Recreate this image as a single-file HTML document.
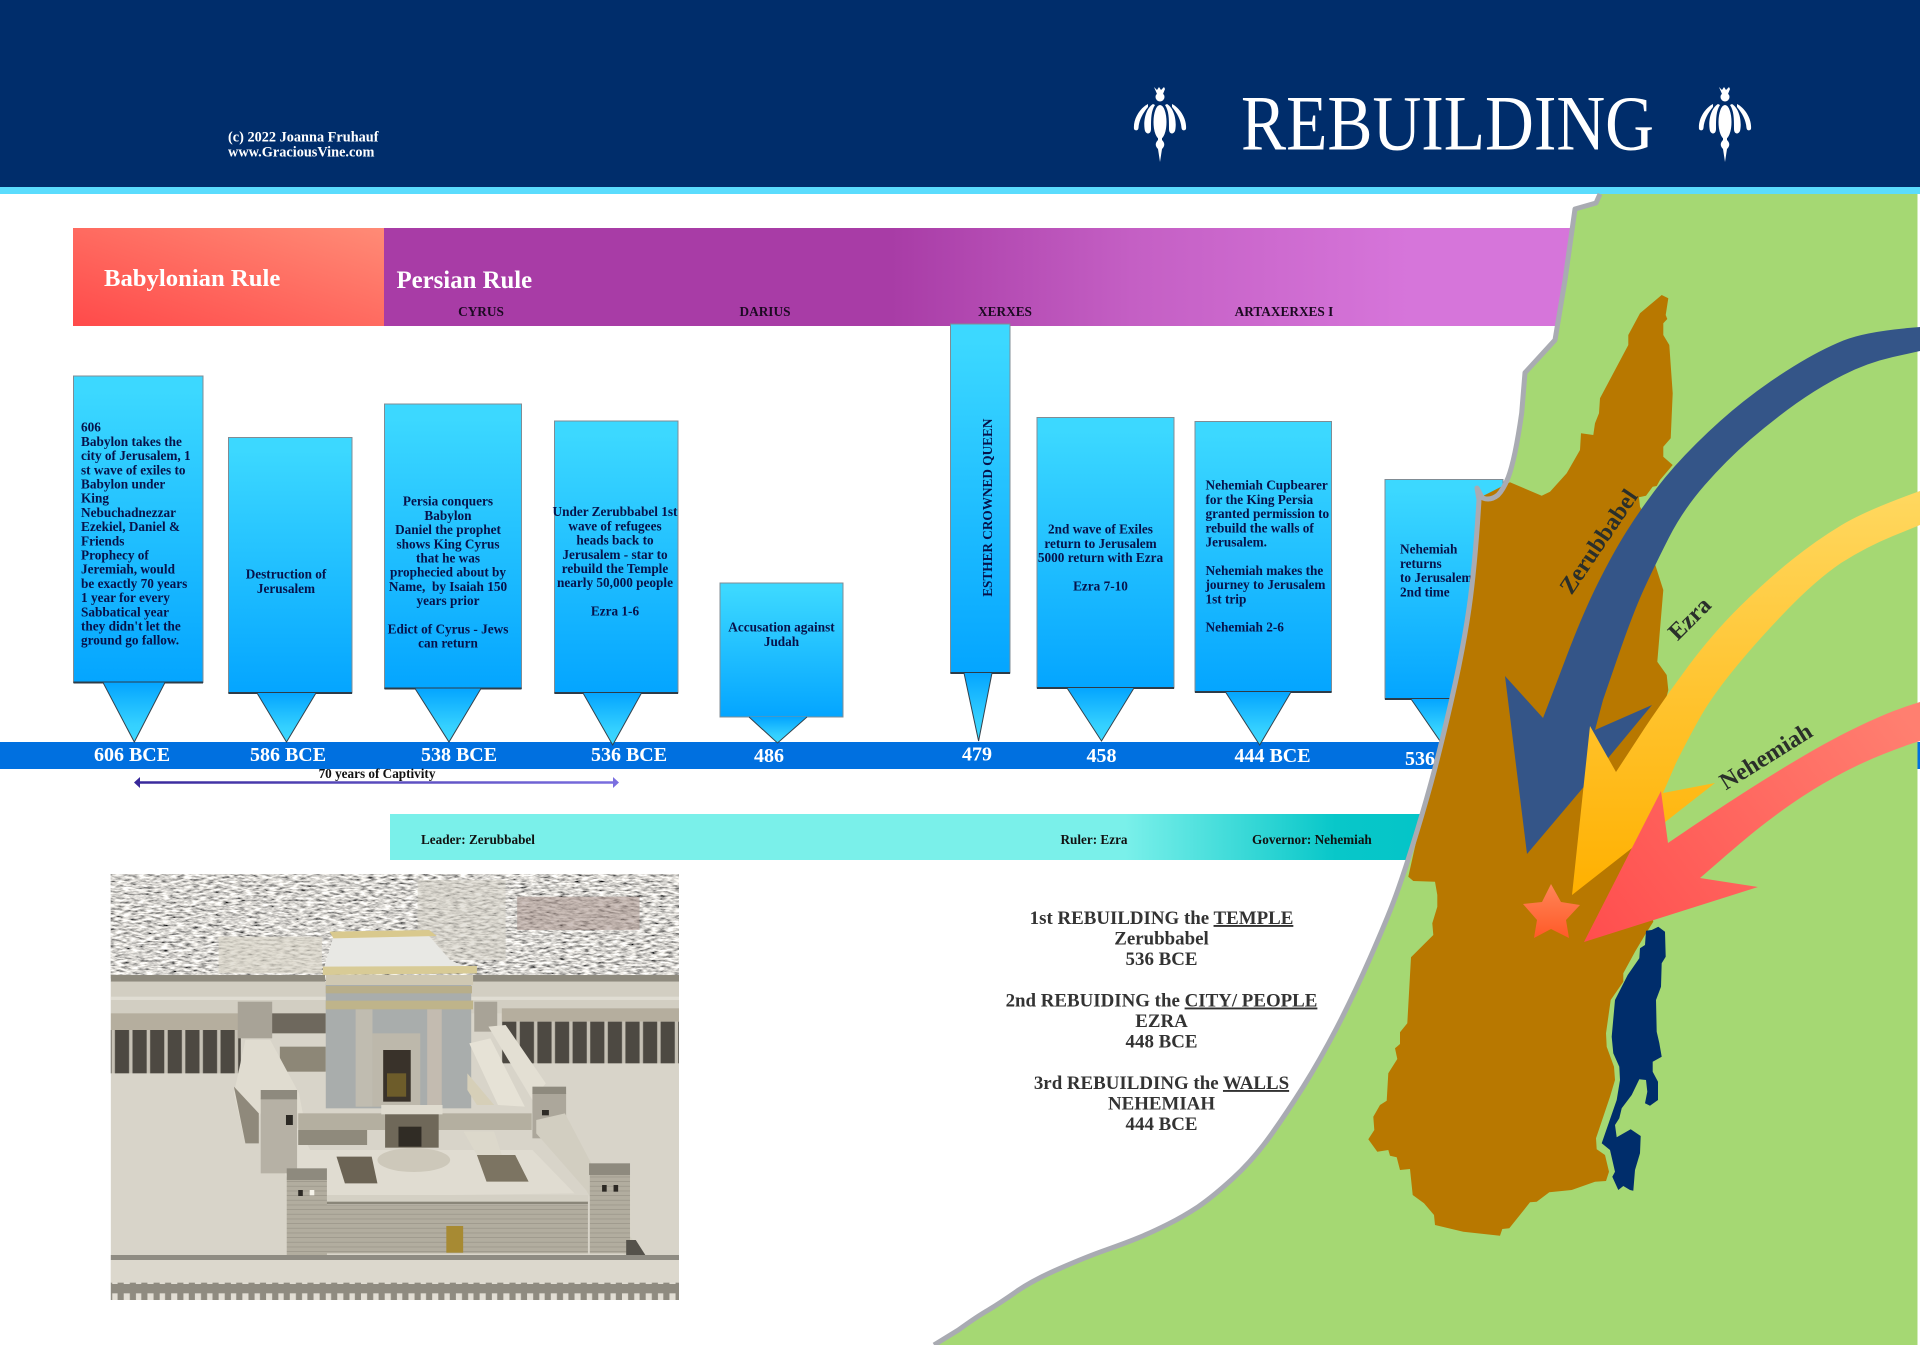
<!DOCTYPE html>
<html><head><meta charset="utf-8"><title>Rebuilding</title>
<style>
html,body{margin:0;padding:0;background:#fff}
svg{display:block}
text{font-family:"Liberation Serif",serif;font-weight:bold}
.b{font-size:13.25px;fill:#07124a}
.m{text-anchor:middle}
.k{font-size:13.3px;fill:#1c0a22;text-anchor:middle}
.d{font-size:20px;fill:#fff;text-anchor:middle}
.t{font-size:18.9px;fill:#333;text-anchor:middle}
.l{font-size:24px;fill:#2a2f2a;text-anchor:middle}
.s{font-size:13.2px;fill:#111}
.box{stroke:#808c94;stroke-width:1}
.ptr{stroke:#33424d;stroke-width:1;fill:url(#gP)}
.bot{stroke:#2d3c48;stroke-width:2}
</style></head>
<body>
<svg xmlns="http://www.w3.org/2000/svg" width="1920" height="1345" viewBox="0 0 1920 1345">
<defs>
<linearGradient id="gB" x1="0" y1="0" x2="0" y2="1"><stop offset="0.05" stop-color="#3cd8ff"/><stop offset="1" stop-color="#04a5ff"/></linearGradient>
<linearGradient id="gP" x1="0" y1="0" x2="0" y2="1"><stop offset="0" stop-color="#04a5ff"/><stop offset="0.7" stop-color="#34d0ff"/><stop offset="1" stop-color="#3cd8ff"/></linearGradient>
<linearGradient id="gBab" x1="0" y1="1" x2="1" y2="0"><stop offset="0" stop-color="#ff4a4a"/><stop offset="1" stop-color="#ff8b76"/></linearGradient>
<linearGradient id="gPer" gradientUnits="userSpaceOnUse" x1="384" y1="0" x2="1590" y2="0"><stop offset="0.42" stop-color="#a83ca6"/><stop offset="0.62" stop-color="#c45fc4"/><stop offset="0.85" stop-color="#d675da"/></linearGradient>
<linearGradient id="gTeal" gradientUnits="userSpaceOnUse" x1="390" y1="0" x2="1440" y2="0"><stop offset="0.7" stop-color="#7af0ea"/><stop offset="0.9" stop-color="#08c7c9"/><stop offset="1" stop-color="#03c4c8"/></linearGradient>
<linearGradient id="gArr" gradientUnits="userSpaceOnUse" x1="134" y1="0" x2="620" y2="0"><stop offset="0" stop-color="#38289a"/><stop offset="1" stop-color="#7b6fe0"/></linearGradient>
<linearGradient id="gY" gradientUnits="userSpaceOnUse" x1="0" y1="490" x2="0" y2="895"><stop offset="0" stop-color="#ffd860"/><stop offset="1" stop-color="#ffb000"/></linearGradient>
<linearGradient id="gR" gradientUnits="userSpaceOnUse" x1="1900" y1="710" x2="1590" y2="940"><stop offset="0" stop-color="#ff7f70"/><stop offset="1" stop-color="#ff4e4e"/></linearGradient>
<linearGradient id="gS" x1="0" y1="0" x2="0" y2="1"><stop offset="0" stop-color="#ff8558"/><stop offset="1" stop-color="#ff5a28"/></linearGradient>
<filter id="city" x="0" y="0" width="1" height="1"><feTurbulence type="fractalNoise" baseFrequency="0.05 0.16" numOctaves="3" seed="7"/><feColorMatrix type="matrix" values="2 0 0 0 -0.32  1.95 0 0 0 -0.31  1.85 0 0 0 -0.29  0 0 0 0 1"/></filter>
<pattern id="cren" width="62" height="50" patternUnits="userSpaceOnUse"><rect width="62" height="50" fill="#8f8b80"/><rect x="0" y="0" width="16" height="22" fill="#e2ded4"/><rect x="32" y="0" width="14" height="22" fill="#e2ded4"/></pattern>
<pattern id="cols" width="46" height="10" patternUnits="userSpaceOnUse"><rect width="46" height="10" fill="#4d4942"/><rect x="30" width="9" height="10" fill="#c5c0b4"/></pattern>
<pattern id="brick" width="20" height="14" patternUnits="userSpaceOnUse"><rect width="20" height="14" fill="#b2ad9f"/><rect y="12" width="20" height="1.6" fill="#918c80"/></pattern>
<g id="orn" fill="#fff">
<path d="M-6 0L-3 3L-1 0L1 3L4 0L5 2L3 7L-3 7Z"/><circle cy="10" r="4.5"/>
<ellipse cy="35" rx="6.5" ry="17"/>
<path d="M-12 17C-20 21-27 32-26 42C-25 44-22 44-21.5 41C-21 33-17 26-12 20Z"/>
<path d="M-7 17C-15 22-17 36-15 44C-13 48-9 47-9 42C-9 32-9 24-5 18Z"/>
<path d="M12 17C20 21 27 32 26 42C25 44 22 44 21.5 41C21 33 17 26 12 20Z"/>
<path d="M7 17C15 22 17 36 15 44C13 48 9 47 9 42C9 32 9 24 5 18Z"/>
<path d="M-2 49L-2 53C-5 56-5 59-2 62L0 75L2 62C5 59 5 56 2 53L2 49Z"/>
</g>
</defs>

<rect width="1920" height="1345" fill="#fff"/>
<!-- header -->
<rect width="1920" height="187" fill="#002d6b"/>
<rect y="187" width="1920" height="7" fill="#5bdcfd"/>
<text x="228" y="141.7" style="font-size:14.3px" fill="#fff">(c) 2022 Joanna Fruhauf</text>
<text x="228" y="156.7" style="font-size:14.3px" fill="#fff">www.GraciousVine.com</text>
<text x="1241" y="149.5" fill="#fff" style="font-size:78px;font-weight:normal" textLength="413" lengthAdjust="spacingAndGlyphs">REBUILDING</text>
<use href="#orn" x="1160" y="87"/>
<use href="#orn" x="1725" y="87"/>

<!-- rule bars -->
<rect x="73" y="228" width="311" height="98" fill="url(#gBab)"/>
<rect x="384" y="228" width="1210" height="98" fill="url(#gPer)"/>
<text x="104" y="286" fill="#fff" style="font-size:24.7px">Babylonian Rule</text>
<text x="396.5" y="288" fill="#fff" style="font-size:24.8px">Persian Rule</text>
<text class="k" x="481" y="316">CYRUS</text>
<text class="k" x="765" y="316">DARIUS</text>
<text class="k" x="1005" y="316">XERXES</text>
<text class="k" x="1284" y="316">ARTAXERXES I</text>

<!-- timeline -->
<rect y="742" width="1920" height="27" fill="#0070e0"/>

<!-- callouts -->
<rect class="box" x="73.5" y="376" width="129.5" height="306.5" fill="url(#gB)"/><path class="bot" d="M73.5 682.5H203"/><path class="ptr" d="M103 682.5L134.3 742L165 682.5"/>
<rect class="box" x="228.5" y="437.5" width="123.5" height="255.5" fill="url(#gB)"/><path class="bot" d="M228.5 693H352"/><path class="ptr" d="M257 693L286.5 742L316 693"/>
<rect class="box" x="384.5" y="404" width="137" height="284.5" fill="url(#gB)"/><path class="bot" d="M384.5 688.5H521.5"/><path class="ptr" d="M415 688.5L449 742L481 688.5"/>
<rect class="box" x="554.5" y="421" width="123.5" height="272" fill="url(#gB)"/><path class="bot" d="M554.5 693H678"/><path class="ptr" d="M583 693L612.7 745L641.5 693"/>
<rect class="box" x="720" y="583" width="123" height="134" fill="url(#gB)"/><path class="ptr" d="M749 717L777.5 743L807 717"/>
<rect class="box" x="950.5" y="324" width="59.5" height="349" fill="url(#gB)"/><path class="bot" d="M950.5 673H1010"/><path class="ptr" d="M964 673L978.6 741L992 673"/>
<rect class="box" x="1037" y="417.5" width="137" height="270.5" fill="url(#gB)"/><path class="bot" d="M1037 688H1174"/><path class="ptr" d="M1067 688L1101.5 741L1134 688"/>
<rect class="box" x="1195" y="421.5" width="136.5" height="270.5" fill="url(#gB)"/><path class="bot" d="M1195 692H1331.5"/><path class="ptr" d="M1225.5 692L1259.7 745L1291 692"/>
<rect class="box" x="1385" y="479.5" width="118" height="219.5" fill="url(#gB)"/><path class="bot" d="M1385 699H1503"/><path class="ptr" d="M1411 699L1440 741L1473 699"/>

<g transform="translate(0 .7)">
<text class="b" x="81" y="431"><tspan x="81">606</tspan><tspan x="81" dy="14.2">Babylon takes the</tspan><tspan x="81" dy="14.2">city of Jerusalem, 1</tspan><tspan x="81" dy="14.2">st wave of exiles to</tspan><tspan x="81" dy="14.2">Babylon under</tspan><tspan x="81" dy="14.2">King</tspan><tspan x="81" dy="14.2">Nebuchadnezzar</tspan><tspan x="81" dy="14.2">Ezekiel, Daniel &amp;</tspan><tspan x="81" dy="14.2">Friends</tspan><tspan x="81" dy="14.2">Prophecy of</tspan><tspan x="81" dy="14.2">Jeremiah, would</tspan><tspan x="81" dy="14.2">be exactly 70 years</tspan><tspan x="81" dy="14.2">1 year for every</tspan><tspan x="81" dy="14.2">Sabbatical year</tspan><tspan x="81" dy="14.2">they didn't let the</tspan><tspan x="81" dy="14.2">ground go fallow.</tspan></text>
<text class="b m" x="286" y="578"><tspan x="286">Destruction of</tspan><tspan x="286" dy="14.2">Jerusalem</tspan></text>
<text class="b m" x="448" y="505"><tspan x="448">Persia conquers</tspan><tspan x="448" dy="14.2">Babylon</tspan><tspan x="448" dy="14.2">Daniel the prophet</tspan><tspan x="448" dy="14.2">shows King Cyrus</tspan><tspan x="448" dy="14.2">that he was</tspan><tspan x="448" dy="14.2">prophecied about by</tspan><tspan x="448" dy="14.2" xml:space="preserve">Name,  by Isaiah 150</tspan><tspan x="448" dy="14.2">years prior</tspan><tspan x="448" dy="28.4">Edict of Cyrus - Jews</tspan><tspan x="448" dy="14.2">can return</tspan></text>
<text class="b m" x="615" y="515.5"><tspan x="615">Under Zerubbabel 1st</tspan><tspan x="615" dy="14.2">wave of refugees</tspan><tspan x="615" dy="14.2">heads back to</tspan><tspan x="615" dy="14.2">Jerusalem - star to</tspan><tspan x="615" dy="14.2">rebuild the Temple</tspan><tspan x="615" dy="14.2">nearly 50,000 people</tspan><tspan x="615" dy="28.4">Ezra 1-6</tspan></text>
<text class="b m" x="781.5" y="631"><tspan x="781.5">Accusation against</tspan><tspan x="781.5" dy="14.2">Judah</tspan></text>
<text class="b m" x="0" y="0" transform="translate(992 507) rotate(-90)">ESTHER CROWNED QUEEN</text>
<text class="b m" x="1100.5" y="533"><tspan x="1100.5">2nd wave of Exiles</tspan><tspan x="1100.5" dy="14.2">return to Jerusalem</tspan><tspan x="1100.5" dy="14.2">5000 return with Ezra</tspan><tspan x="1100.5" dy="28.4">Ezra 7-10</tspan></text>
<text class="b" x="1205.5" y="489"><tspan x="1205.5">Nehemiah Cupbearer</tspan><tspan x="1205.5" dy="14.2">for the King Persia</tspan><tspan x="1205.5" dy="14.2">granted permission to</tspan><tspan x="1205.5" dy="14.2">rebuild the walls of</tspan><tspan x="1205.5" dy="14.2">Jerusalem.</tspan><tspan x="1205.5" dy="28.4">Nehemiah makes the</tspan><tspan x="1205.5" dy="14.2">journey to Jerusalem</tspan><tspan x="1205.5" dy="14.2">1st trip</tspan><tspan x="1205.5" dy="28.4">Nehemiah 2-6</tspan></text>
<text class="b" x="1400" y="553"><tspan x="1400">Nehemiah</tspan><tspan x="1400" dy="14.2">returns</tspan><tspan x="1400" dy="14.2">to Jerusalem</tspan><tspan x="1400" dy="14.2">2nd time</tspan></text>
</g>

<!-- dates -->
<text class="d" x="132" y="761">606 BCE</text>
<text class="d" x="288" y="761">586 BCE</text>
<text class="d" x="459" y="761">538 BCE</text>
<text class="d" x="629" y="761">536 BCE</text>
<text class="d" x="769" y="762">486</text>
<text class="d" x="977" y="760.5">479</text>
<text class="d" x="1101.5" y="762">458</text>
<text class="d" x="1272.5" y="762">444 BCE</text>
<text class="d" x="1420" y="765">536</text>

<!-- captivity arrow -->
<path d="M140 782.5H613" stroke="url(#gArr)" stroke-width="2.5" fill="none"/>
<path d="M134 782.5L140 777V788Z" fill="#38289a"/><path d="M619 782.5L613 777V788Z" fill="#7b6fe0"/>
<text class="m s" x="377" y="778">70 years of Captivity</text>

<!-- teal -->
<rect x="390" y="814" width="1060" height="46" fill="url(#gTeal)"/>
<text class="s" x="421" y="844">Leader: Zerubbabel</text>
<text class="s" x="1060.5" y="844">Ruler: Ezra</text>
<text class="s" x="1252" y="844">Governor: Nehemiah</text>

<!-- center text -->
<text class="t" x="1161.5" y="924">1st REBUILDING the <tspan text-decoration="underline">TEMPLE</tspan></text>
<text class="t" x="1161.5" y="944.5">Zerubbabel</text>
<text class="t" x="1161.5" y="965">536 BCE</text>
<text class="t" x="1161.5" y="1006.5">2nd REBUIDING the <tspan text-decoration="underline">CITY/ PEOPLE</tspan></text>
<text class="t" x="1161.5" y="1027">EZRA</text>
<text class="t" x="1161.5" y="1047.5">448 BCE</text>
<text class="t" x="1161.5" y="1089">3rd REBUILDING the <tspan text-decoration="underline">WALLS</tspan></text>
<text class="t" x="1161.5" y="1109.5">NEHEMIAH</text>
<text class="t" x="1161.5" y="1130">444 BCE</text>

<!-- temple image (coordinates in crop space) -->
<svg x="110.7" y="874" width="568.3" height="426" viewBox="28 42 1485 1278" preserveAspectRatio="none">
<rect x="28" y="42" width="1485" height="1278" fill="#d8d4c9"/>
<rect x="28" y="42" width="1485" height="320" fill="#b5b1a4" filter="url(#city)"/>
<rect x="1090" y="110" width="320" height="100" fill="#a58f88" opacity=".55"/>
<rect x="310" y="230" width="270" height="110" fill="#d8d4c8" opacity=".7"/>
<rect x="830" y="60" width="230" height="240" fill="#d2cec2" opacity=".55"/>
<rect x="28" y="345" width="560" height="20" fill="#8e8a7e"/>
<rect x="970" y="345" width="543" height="20" fill="#8e8a7e"/>
<rect x="28" y="365" width="1485" height="95" fill="#d2cec2"/>
<rect x="28" y="410" width="1485" height="10" fill="#e0ddd3"/>
<rect x="28" y="460" width="340" height="50" fill="#b5ae9e"/>
<rect x="28" y="510" width="340" height="130" fill="url(#cols)"/>
<rect x="1050" y="445" width="463" height="40" fill="#b5ae9e"/>
<rect x="1050" y="485" width="463" height="125" fill="url(#cols)"/>
<rect x="440" y="460" width="150" height="60" fill="#6e685d"/>
<rect x="470" y="560" width="120" height="75" fill="#8d8777"/>
<rect x="360" y="425" width="90" height="110" fill="#a8a397"/>
<rect x="978" y="425" width="60" height="90" fill="#a8a397"/>
<polygon points="380,540 445,540 520,700 530,760 420,760 380,850 350,700" fill="#e0dcd0"/>
<polygon points="350,680 415,760 415,850 380,850" fill="#8f897b"/>
<!-- temple -->
<rect x="590" y="370" width="380" height="375" fill="#a9adac"/>
<rect x="590" y="345" width="385" height="30" fill="#cfc8b2"/>
<rect x="590" y="378" width="382" height="22" fill="#b8ae8a"/>
<rect x="590" y="422" width="385" height="26" fill="#bfb48a"/>
<rect x="668" y="448" width="44" height="292" fill="#c0bcb0"/>
<rect x="855" y="448" width="38" height="292" fill="#c3bbb0"/>
<rect x="712" y="520" width="125" height="220" fill="#bdb8ab"/>
<rect x="740" y="570" width="72" height="155" fill="#39322a"/>
<rect x="750" y="640" width="50" height="70" fill="#6d5c2a"/>
<polygon points="610,230 860,228 915,300 985,335 582,335" fill="#e8e8e4"/>
<polygon points="600,215 860,210 880,228 610,235" fill="#d9c98e"/>
<polygon points="582,320 985,318 985,340 582,345" fill="#d8cb96"/>
<!-- right ramps -->
<polygon points="1015,500 1060,495 1165,670 1130,720" fill="#e3dfd3"/>
<polygon points="965,550 1020,535 1110,740 1040,735" fill="#e6e2d6"/>
<polygon points="960,640 1030,735 985,735 960,690" fill="#d6cfb8"/>
<rect x="1130" y="700" width="88" height="135" fill="#aca79b"/>
<rect x="1155" y="750" width="18" height="16" fill="#2e2b26"/>
<rect x="1130" y="680" width="88" height="22" fill="#8e8a7e"/>
<polygon points="1140,780 1215,760 1380,1120 1420,1185 1370,1185 1270,990 1140,820" fill="#d2cec1"/>
<!-- inner court -->
<polygon points="520,870 1130,870 1240,1000 590,1010" fill="#e0dcd1"/>
<ellipse cx="820" cy="900" rx="95" ry="36" fill="#cdc8ba"/>
<polygon points="618,890 710,890 725,970 640,970" fill="#6b6354"/>
<polygon points="985,885 1085,885 1120,965 1010,965" fill="#7c7462"/>
<polygon points="470,805 520,805 590,960 490,960 470,900" fill="#e0dcd1"/>
<polygon points="950,815 1030,815 1050,885 985,885" fill="#dcd8cb"/>
<!-- balustrade & portal -->
<rect x="518" y="760" width="610" height="50" fill="#b4afa0"/>
<rect x="518" y="810" width="180" height="45" fill="#8f8a7c"/>
<rect x="735" y="735" width="160" height="28" fill="#dfdbcf"/>
<rect x="745" y="763" width="140" height="100" fill="#6f6859"/>
<rect x="780" y="800" width="60" height="60" fill="#302c25"/>
<!-- left tower -->
<rect x="420" y="715" width="95" height="225" fill="#b6b1a5"/>
<rect x="420" y="690" width="95" height="28" fill="#8e8a7e"/>
<rect x="486" y="765" width="18" height="30" fill="#2c2924"/>
<!-- front wall -->
<rect x="590" y="1030" width="685" height="150" fill="url(#brick)"/>
<rect x="590" y="1005" width="685" height="28" fill="#d4d0c4"/>
<rect x="590" y="1025" width="685" height="7" fill="#8a8679"/>
<rect x="905" y="1098" width="44" height="80" fill="#a78a33"/>
<rect x="488" y="960" width="105" height="225" fill="url(#brick)"/>
<rect x="488" y="925" width="105" height="35" fill="#8e8a7e"/>
<rect x="518" y="990" width="12" height="18" fill="#2c2924"/><rect x="548" y="990" width="12" height="16" fill="#f5f3ea"/>
<rect x="1280" y="945" width="105" height="235" fill="url(#brick)"/>
<rect x="1278" y="910" width="107" height="35" fill="#8e8a7e"/>
<rect x="1312" y="975" width="12" height="20" fill="#2c2924"/><rect x="1342" y="975" width="12" height="20" fill="#2c2924"/>
<polygon points="1375,1140 1400,1140 1425,1185 1375,1185" fill="#55524b"/>
<!-- bottom wall -->
<rect x="28" y="1185" width="1485" height="15" fill="#8f8c83"/>
<rect x="28" y="1200" width="1485" height="70" fill="#dcd8cd"/>
<rect x="28" y="1268" width="1485" height="52" fill="url(#cren)"/>
</svg>

<!-- land -->
<path d="M1600 194L1596 203L1575 209L1565 280L1555 340L1525 372.7L1521.7 413Q1515 460 1508 478Q1503 490 1498 495Q1493 499 1488 499Q1483 499 1481.7 496.7L1477 488L1479 500Q1475 566.7 1469 608.4Q1463 650 1451.5 700Q1440 750 1430.9 783.4Q1421.7 816.7 1411.7 848.4Q1401.7 880 1394.2 900Q1386.7 920 1369.9 958.4Q1353 996.7 1336.5 1028.4Q1320 1060 1303.4 1086.5Q1286.7 1113 1269.9 1136.5Q1253 1160 1233 1178.4Q1213 1196.7 1198 1206.9Q1183 1216.7 1168 1224.2Q1153 1231.7 1139.9 1237.2Q1126.7 1242.7 1106.7 1249.7Q1086.7 1256.7 1059.9 1268.4Q1033 1280 1016.5 1291.5Q1000 1303 988.4 1310Q976.7 1316.7 958.4 1330L934 1345L1917.5 1345L1917.5 194Z" fill="#a5d873"/>
<path d="M1661.7 295L1668.3 298.3L1665.7 315L1667.3 319L1663.3 323.3L1663.3 335L1669.3 345L1672.7 393.3L1670.7 438.3L1663.3 446.7L1663.3 456.7L1672.7 465L1660 480L1656.7 486L1652.7 486.7L1646 495.7L1639 497.3L1640 506.7L1643 512L1630 560L1655.3 565L1663.3 590L1657.3 661.7L1666.7 675L1668.3 690L1640 800L1645 880L1653.3 921.7L1645 935L1635 951.7L1623.3 973.3L1623.3 981.7L1610.7 1000L1606 1033.3L1606.7 1046.7L1614 1066.7L1615 1080L1610 1096.7L1596 1138.3L1596.7 1149.3L1605 1155L1609 1171.7L1606 1181L1595 1181.7L1571.7 1190L1549.3 1192.3L1536.7 1201.7L1530 1202.3L1509.3 1228.3L1502.3 1229L1500 1235.7L1463.3 1231.7L1435 1225L1434 1215L1424 1203.3L1412.7 1195L1410 1169L1400 1170L1396.7 1157.3L1390 1155.7L1388.3 1150L1377.3 1151.7L1368.3 1139.3L1374.3 1130L1373.3 1116.7L1380 1105L1386.7 1100.7L1388.3 1073.3L1397.3 1059L1395 1048.3L1400 1044L1400 1032.3L1407.3 1023.3L1411 957.3L1433.3 935L1432.3 923.3L1437.3 906.7L1437.3 895L1435 881.7L1413.3 881L1408.3 876.7L1421.7 816.7L1440 750L1463 650L1475 566.7L1479 500L1481 497L1510 482.3L1541.7 495.7L1550 491.7L1566.7 473.3L1580 450L1581 433.3L1593.3 435L1595 423.3L1599 413.3L1600 398.3L1628.3 345L1628.3 335L1640 313.3Z" fill="#b87800"/>
<path d="M1646 930.7L1651.7 930L1658.3 926.7L1665 931.7L1665.7 956.7L1661.7 963.3L1661 986.7L1656 1000L1656.7 1031.7L1659.3 1043L1661.7 1056.7L1652.7 1061.7L1652.7 1071.7L1658 1081.7L1658 1100L1650 1105.7L1645 1103.3L1647.3 1091.7L1646 1080L1639.3 1079.3L1631.7 1095L1621.7 1108.3L1619.3 1118.3L1615 1125L1616.7 1137.3L1630.7 1129.3L1640.7 1136L1640 1153.3L1635 1170L1633.3 1190.7L1630 1190L1623.3 1186L1618.3 1190L1612.3 1176.7L1615 1171.7L1610 1150L1601.7 1143.3L1616.7 1100L1620 1080L1619.3 1066.7L1613.3 1053.3L1611.7 1036.7L1615 1000L1627.7 975L1639.3 958.3L1640 948.3L1645 945Z" fill="#002d6b"/>
<path d="M1600 194L1596 203L1575 209L1565 280L1555 340L1525 372.7L1521.7 413Q1515 460 1508 478Q1503 490 1498 495Q1493 499 1488 499Q1483 499 1481.7 496.7L1477 488L1479 500Q1475 566.7 1469 608.4Q1463 650 1451.5 700Q1440 750 1430.9 783.4Q1421.7 816.7 1411.7 848.4Q1401.7 880 1394.2 900Q1386.7 920 1369.9 958.4Q1353 996.7 1336.5 1028.4Q1320 1060 1303.4 1086.5Q1286.7 1113 1269.9 1136.5Q1253 1160 1233 1178.4Q1213 1196.7 1198 1206.9Q1183 1216.7 1168 1224.2Q1153 1231.7 1139.9 1237.2Q1126.7 1242.7 1106.7 1249.7Q1086.7 1256.7 1059.9 1268.4Q1033 1280 1016.5 1291.5Q1000 1303 988.4 1310Q976.7 1316.7 958.4 1330L934 1345" fill="none" stroke="#a9abb2" stroke-width="5" stroke-linejoin="round"/>

<!-- arrows -->
<path d="M1920 327Q1866.7 331 1843.4 340.5Q1820 350 1793.4 366.5Q1766.7 383 1743.4 401.5Q1720 420 1696.5 443.4Q1673 466.7 1656.5 488.4Q1640 510 1626.5 531.5Q1613 553 1598 583Q1583 613 1566.5 656.5Q1550 700 1543 718L1505 676L1527 854L1609 757L1652 705L1595 730L1603 700L1618 656.5Q1633 613 1644 589Q1655 565 1669 537.5Q1683 510 1704.8 485Q1726.7 460 1749.8 440Q1773 420 1796.5 403.3Q1820 386.7 1843.3 375Q1866.7 363 1893 357L1920 351Z" fill="#345588"/>
<path d="M1920 491Q1866.7 510 1841.7 525Q1816.7 540 1791.7 560Q1766.7 580 1739.9 606.5Q1713 633 1688 666.5Q1663 700 1639.5 736L1616 772L1590 726L1572 895L1715 783L1663 793L1676 763Q1690 735 1701.5 715Q1713 695 1735.5 667.5Q1758 640 1787 610Q1816 580 1841 563Q1866.7 546.7 1893 536L1920 525Z" fill="url(#gY)"/>
<path d="M1920 702C1860 720 1790 760 1668 843L1661 791L1584 942L1758 887L1700 878C1745 840 1810 775 1920 741Z" fill="url(#gR)"/>
<polygon points="1551,884 1561,902 1580,905 1566,920 1569,938 1551,929 1534,938 1537,920 1523,904 1542,902" fill="url(#gS)"/>

<text class="l" transform="translate(1605 546) rotate(-56)">Zerubbabel</text>
<text class="l" transform="translate(1695 624) rotate(-45)">Ezra</text>
<text class="l" transform="translate(1770 763) rotate(-32)">Nehemiah</text>
</svg>
</body></html>
